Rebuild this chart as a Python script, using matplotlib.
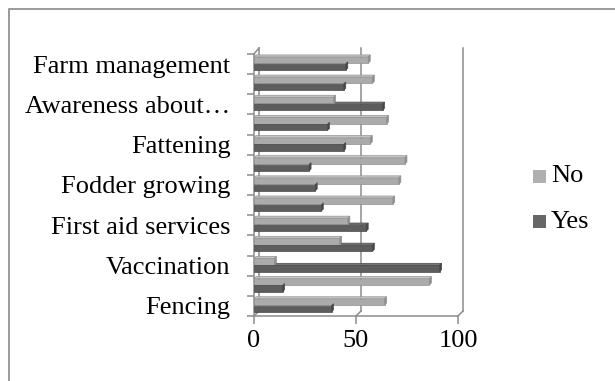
import numpy as np
import matplotlib
matplotlib.use("Agg")
import matplotlib.pyplot as plt
from matplotlib.patches import Polygon, Rectangle
from matplotlib.lines import Line2D

plt.rcParams["font.family"] = ["Liberation Serif", "DejaVu Serif"]

# Categories from bottom to top; only every other label is printed on the axis
category_labels = [
    "Fencing", "", "Vaccination", "", "First aid services", "",
    "Fodder growing", "", "Fattening", "", "Awareness about\u2026", "",
    "Farm management",
]
no_values = [64, 86, 10, 42, 46, 68, 71, 74, 57, 65, 39, 58, 56]
yes_values = [38, 14, 91, 58, 55, 33, 30, 27, 44, 36, 63, 44, 45]
x_ticks = [0, 50, 100]
series_names = ["No", "Yes"]

W, H = 615, 381
fig = plt.figure(figsize=(W / 100, H / 100), dpi=100)

# front plane of the plot area, in pixels
x0, x1 = 254, 458
y_top, y_bot = 54, 316
ax = fig.add_axes([x0 / W, (H - y_bot) / H, (x1 - x0) / W, (y_bot - y_top) / H])
n = len(category_labels)
ax.set_xlim(0, 100)
ax.set_ylim(-0.5, n - 0.5)

dxp = 100 / (x1 - x0)          # data units per pixel, x
dyp = n / (y_bot - y_top)      # data units per pixel, y

grid_c = "#8c8c8c"
lw = 1.1
fs = 19

for s in ["top", "right"]:
    ax.spines[s].set_visible(False)
for s in ["left", "bottom"]:
    ax.spines[s].set_color(grid_c)
    ax.spines[s].set_linewidth(lw)

# back wall gridlines with a small depth offset
Dx, Dy = 5 * dxp, 5 * dyp
for xv in x_ticks:
    ax.add_line(Line2D([xv + Dx, xv + Dx], [-0.5 + Dy, n - 0.5 + 6 * dyp],
                       color=grid_c, lw=lw, clip_on=False, zorder=1))
    ax.add_line(Line2D([xv, xv + Dx], [-0.5, -0.5 + Dy],
                       color=grid_c, lw=lw, clip_on=False, zorder=1))
ax.add_line(Line2D([0, Dx], [n - 0.5, n - 0.5 + 6 * dyp],
                   color=grid_c, lw=lw, clip_on=False, zorder=1))

# 3D-style bars
h = 0.31
d = 2.0  # bar depth in pixels
styles = {
    "No": dict(face="#ababab", top="#c4c4c4", end="#8e8e8e", edge="#929292", off=0.20),
    "Yes": dict(face="#5d5d5d", top="#767676", end="#474747", edge="#4a4a4a", off=-0.14),
}
for name, vals in zip(series_names, [no_values, yes_values]):
    st = styles[name]
    for k, v in enumerate(vals):
        yc = k + st["off"]
        yb, yt = yc - h / 2, yc + h / 2
        ddx, ddy = d * dxp, d * dyp
        ax.add_patch(Rectangle((0, yb), v, h, facecolor=st["face"],
                               edgecolor=st["edge"], lw=0.5, zorder=3))
        ax.add_patch(Polygon([(0, yt), (v, yt), (v + ddx, yt + ddy), (ddx, yt + ddy)],
                             closed=True, facecolor=st["top"], edgecolor=st["edge"],
                             lw=0.5, zorder=2.9))
        ax.add_patch(Polygon([(v, yb), (v, yt), (v + ddx, yt + ddy), (v + ddx, yb + ddy)],
                             closed=True, facecolor=st["end"], edgecolor=st["edge"],
                             lw=0.5, zorder=3.1))

# ticks
ax.set_yticks(np.arange(n))
ax.set_yticklabels(category_labels, fontsize=fs)
ax.set_yticks(np.arange(-0.5, n, 1), minor=True)
ax.tick_params(axis="y", which="major", length=0, pad=17)
ax.tick_params(axis="y", which="minor", length=5, width=lw, color=grid_c, direction="out")
ax.set_xticks(x_ticks)
ax.set_xticklabels([str(t) for t in x_ticks], fontsize=fs)
ax.tick_params(axis="x", length=5.8, width=lw, color=grid_c, direction="out", pad=4.5)

# legend
leg_colors = {"No": "#b0b0b0", "Yes": "#666666"}
for name, yc in zip(series_names, [176.5, 221.5]):
    fig.add_artist(Rectangle((533 / W, (H - yc - 6.5) / H), 13 / W, 13 / H,
                             transform=fig.transFigure, facecolor=leg_colors[name],
                             edgecolor="none"))
    fig.text(551 / W, (H - yc) / H, name, fontsize=fs, va="center", ha="left")

# chart border (extends past the right and bottom edges)
fig.add_artist(Rectangle((9 / W, -20 / H), (W + 20) / W, (H - 9 + 20) / H,
                         transform=fig.transFigure, facecolor="none",
                         edgecolor="#8a8a8a", lw=1.2))

fig.savefig("out.png", dpi=100)
